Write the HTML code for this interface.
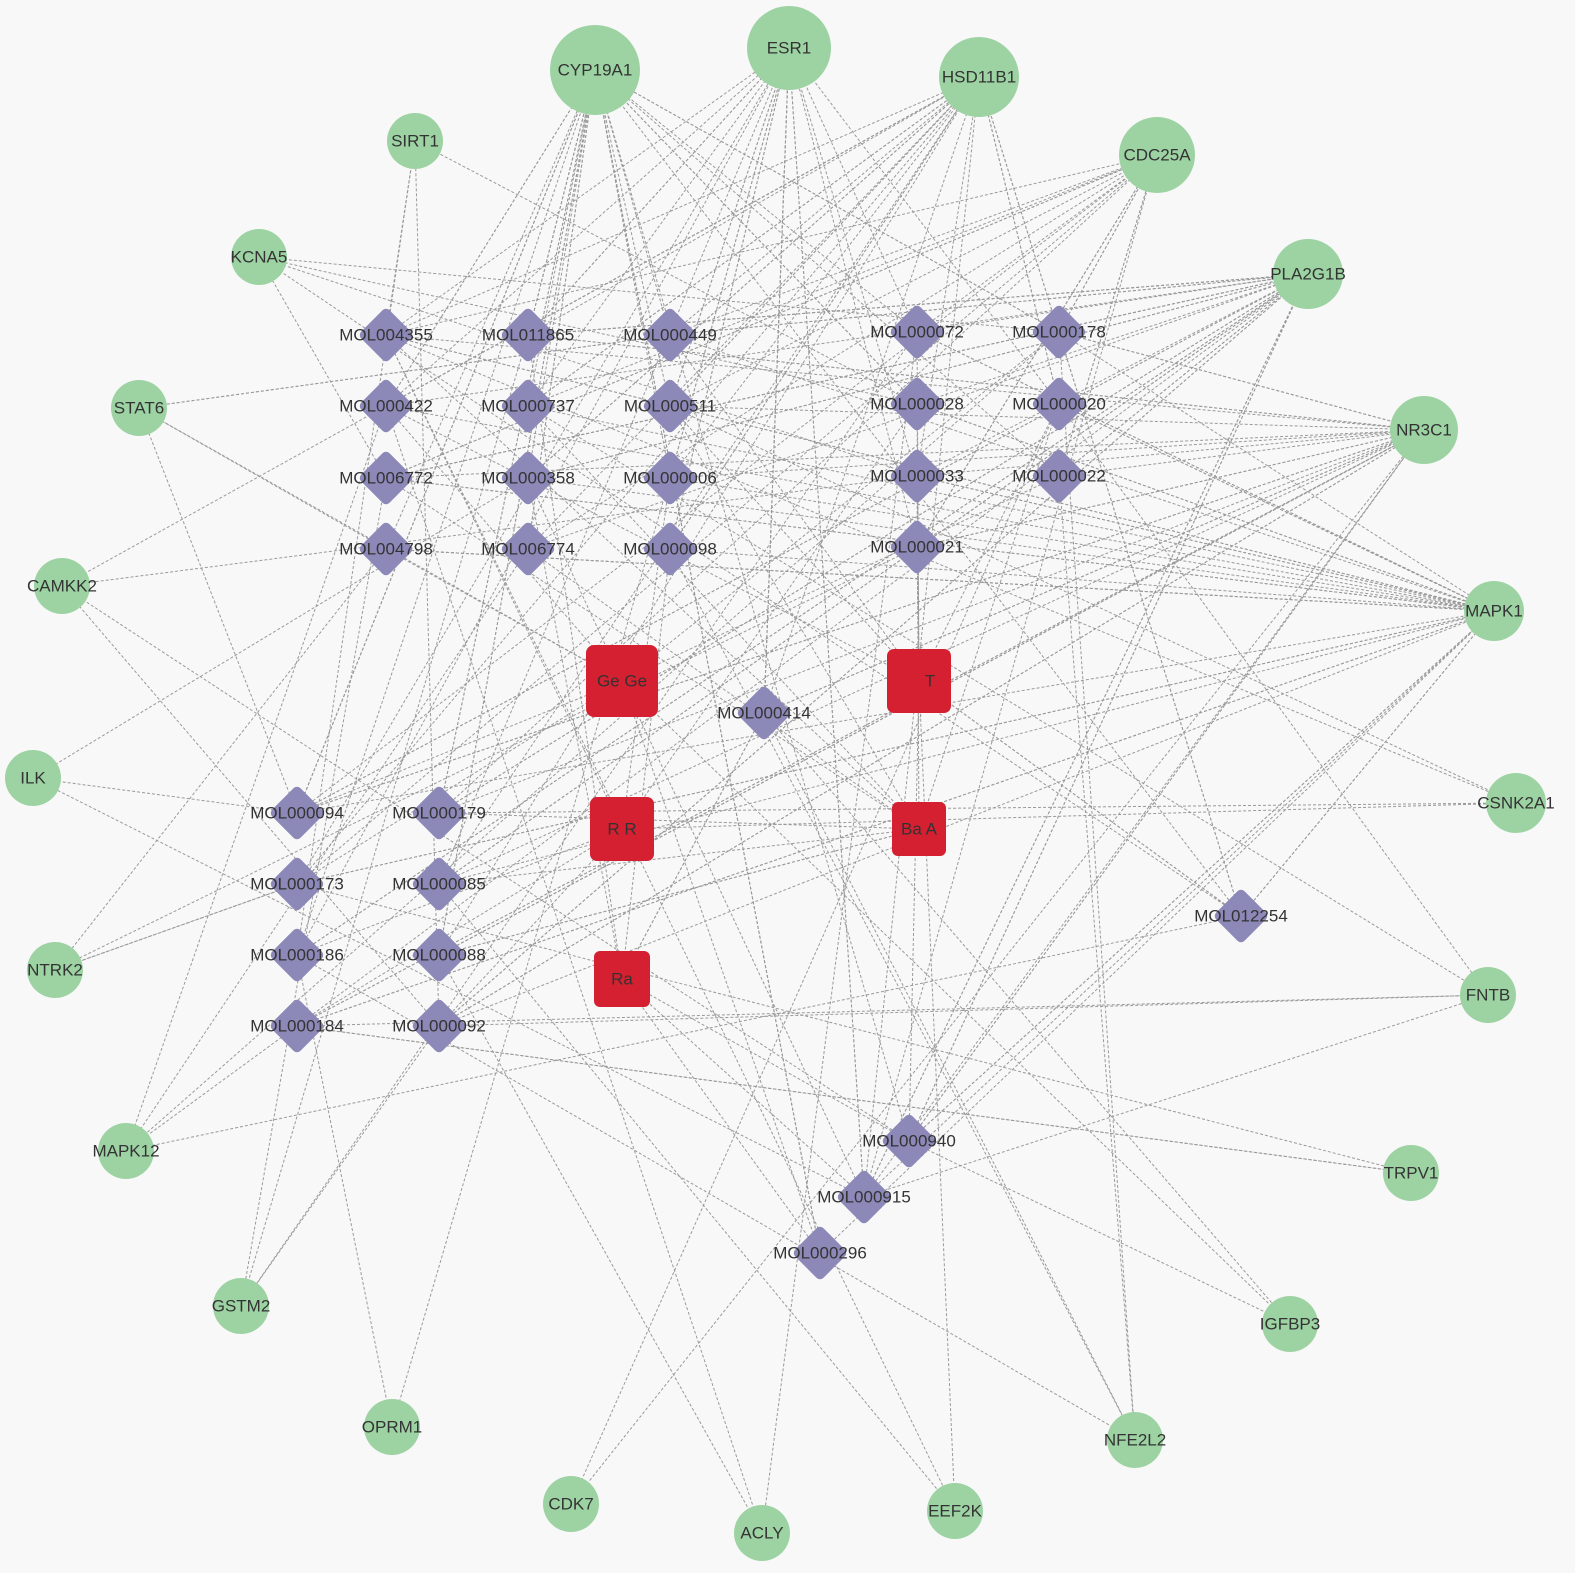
<!DOCTYPE html>
<html><head><meta charset="utf-8"><style>
html,body{margin:0;padding:0;background:#f8f8f8;}
svg{display:block;}
text{font-family:"Liberation Sans",Arial,sans-serif;font-size:17px;fill:#333;text-anchor:middle;dominant-baseline:central;}
</style></head><body>
<svg id="s" width="1575" height="1573" viewBox="0 0 1575 1573" xmlns="http://www.w3.org/2000/svg">
<rect width="1575" height="1573" fill="#f8f8f8"/>
<g id="edges" stroke="#9a9a9a" stroke-width="1" stroke-dasharray="3,2" fill="none"></g>
<g id="nodes">
<g fill="#9dd3a3">
<circle cx="595" cy="70" r="45"/><circle cx="789" cy="48" r="42"/><circle cx="979" cy="77" r="40"/>
<circle cx="1157" cy="155" r="38"/><circle cx="1308" cy="274" r="35"/><circle cx="1424" cy="430" r="34"/>
<circle cx="1494" cy="611" r="30"/><circle cx="1516" cy="803" r="30"/><circle cx="1488" cy="995" r="28"/>
<circle cx="1411" cy="1173" r="28"/><circle cx="1290" cy="1324" r="28"/><circle cx="1135" cy="1440" r="28"/>
<circle cx="955" cy="1511" r="28"/><circle cx="762" cy="1533" r="28"/><circle cx="571" cy="1504" r="28"/>
<circle cx="392" cy="1427" r="28"/><circle cx="241" cy="1306" r="28"/><circle cx="126" cy="1151" r="28"/>
<circle cx="55" cy="970" r="28"/><circle cx="33" cy="778" r="28"/><circle cx="62" cy="586" r="28"/>
<circle cx="139" cy="408" r="28"/><circle cx="259" cy="257" r="28"/><circle cx="415" cy="141" r="28"/>
</g>
<g id="dia" fill="#8c88b8"></g>
<g fill="#d42030">
<rect x="586" y="645" width="72" height="72" rx="8"/>
<rect x="887" y="649" width="64" height="64" rx="7"/>
<rect x="590" y="797" width="64" height="64" rx="7"/>
<rect x="892" y="802" width="54" height="54" rx="6"/>
<rect x="594" y="951" width="56" height="56" rx="6"/>
</g>
<g style="fill:#8a1c1c;font-size:13px">
<text x="622" y="681">Ge Ge</text><text x="930" y="681">T</text><text x="622" y="829">R R</text>
<text x="919" y="829">Ba A</text><text x="622" y="979">Ra</text>
</g>
<g>
<text x="595" y="70">CYP19A1</text><text x="789" y="48">ESR1</text><text x="979" y="77">HSD11B1</text>
<text x="1157" y="155">CDC25A</text><text x="1308" y="274">PLA2G1B</text><text x="1424" y="430">NR3C1</text>
<text x="1494" y="611">MAPK1</text><text x="1516" y="803">CSNK2A1</text><text x="1488" y="995">FNTB</text>
<text x="1411" y="1173">TRPV1</text><text x="1290" y="1324">IGFBP3</text><text x="1135" y="1440">NFE2L2</text>
<text x="955" y="1511">EEF2K</text><text x="762" y="1533">ACLY</text><text x="571" y="1504">CDK7</text>
<text x="392" y="1427">OPRM1</text><text x="241" y="1306">GSTM2</text><text x="126" y="1151">MAPK12</text>
<text x="55" y="970">NTRK2</text><text x="33" y="778">ILK</text><text x="62" y="586">CAMKK2</text>
<text x="139" y="408">STAT6</text><text x="259" y="257">KCNA5</text><text x="415" y="141">SIRT1</text>
<text x="386" y="335">MOL004355</text><text x="528" y="335">MOL011865</text><text x="670" y="335">MOL000449</text>
<text x="386" y="406">MOL000422</text><text x="528" y="406">MOL000737</text><text x="670" y="406">MOL000511</text>
<text x="386" y="478">MOL006772</text><text x="528" y="478">MOL000358</text><text x="670" y="478">MOL000006</text>
<text x="386" y="549">MOL004798</text><text x="528" y="549">MOL006774</text><text x="670" y="549">MOL000098</text>
<text x="917" y="332">MOL000072</text><text x="1059" y="332">MOL000178</text>
<text x="917" y="404">MOL000028</text><text x="1059" y="404">MOL000020</text>
<text x="917" y="476">MOL000033</text><text x="1059" y="476">MOL000022</text>
<text x="917" y="547">MOL000021</text>
<text x="764" y="713">MOL000414</text>
<text x="297" y="813">MOL000094</text><text x="439" y="813">MOL000179</text>
<text x="297" y="884">MOL000173</text><text x="439" y="884">MOL000085</text>
<text x="297" y="955">MOL000186</text><text x="439" y="955">MOL000088</text>
<text x="297" y="1026">MOL000184</text><text x="439" y="1026">MOL000092</text>
<text x="1241" y="916">MOL012254</text>
<text x="909" y="1141">MOL000940</text><text x="864" y="1197">MOL000915</text><text x="820" y="1253">MOL000296</text>
</g>
</g>
</svg>
<script>
(function(){
var T=[[595,70],[789,48],[979,77],[1157,155],[1308,274],[1424,430],[1494,611],[1516,803],[1488,995],[1411,1173],[1290,1324],[1135,1440],[955,1511],[762,1533],[571,1504],[392,1427],[241,1306],[126,1151],[55,970],[33,778],[62,586],[139,408],[259,257],[415,141]];
var D=[[386,335],[528,335],[670,335],[386,406],[528,406],[670,406],[386,478],[528,478],[670,478],[386,549],[528,549],[670,549],[917,332],[1059,332],[917,404],[1059,404],[917,476],[1059,476],[917,547],[764,713],[297,813],[439,813],[297,884],[439,884],[297,955],[439,955],[297,1026],[439,1026],[1241,916],[909,1141],[864,1197],[820,1253]];
var H=[[622,681],[919,681],[622,829],[919,829],[622,979]];
var seed=7;function r(){seed=(seed*16807)%2147483647;return seed/2147483647;}
var NS="http://www.w3.org/2000/svg",E=document.getElementById("edges");
function L(a,b){var l=document.createElementNS(NS,"line");l.setAttribute("x1",a[0]);l.setAttribute("y1",a[1]);l.setAttribute("x2",b[0]);l.setAttribute("y2",b[1]);E.appendChild(l);}
var top=[0,1,2,3,4,5,6];
D.forEach(function(d,i){
  var n=3+Math.floor(r()*3);
  for(var k=0;k<n;k++){L(d,T[top[Math.floor(r()*top.length)]]);}
  var m=1+Math.floor(r()*2);
  for(var k=0;k<m;k++){L(d,T[Math.floor(r()*T.length)]);}
  var h=1+Math.floor(r()*2);
  for(var k=0;k<h;k++){L(d,H[Math.floor(r()*H.length)]);}
});
for(var i=0;i<60;i++){L(D[Math.floor(r()*D.length)],T[top[Math.floor(r()*top.length)]]);}
L(T[23],D[0]);L(T[22],D[13]);L(T[21],H[0]);L(T[20],D[3]);L(T[19],D[20]);L(T[18],D[22]);
L(T[17],D[26]);L(T[16],D[27]);L(T[15],D[24]);L(T[14],T[5]);L(T[13],D[25]);L(T[12],H[1]);
L(T[11],D[19]);L(T[10],H[0]);L(T[9],D[26]);L(T[8],D[27]);L(T[7],H[2]);L(T[7],D[21]);
var G=document.getElementById("dia");
D.forEach(function(d){var p=document.createElementNS(NS,"rect");p.setAttribute("x",d[0]-20);p.setAttribute("y",d[1]-20);p.setAttribute("width",40);p.setAttribute("height",40);p.setAttribute("rx",5);p.setAttribute("transform","rotate(45 "+d[0]+" "+d[1]+")");G.appendChild(p);});
})();
</script>
</body></html>
